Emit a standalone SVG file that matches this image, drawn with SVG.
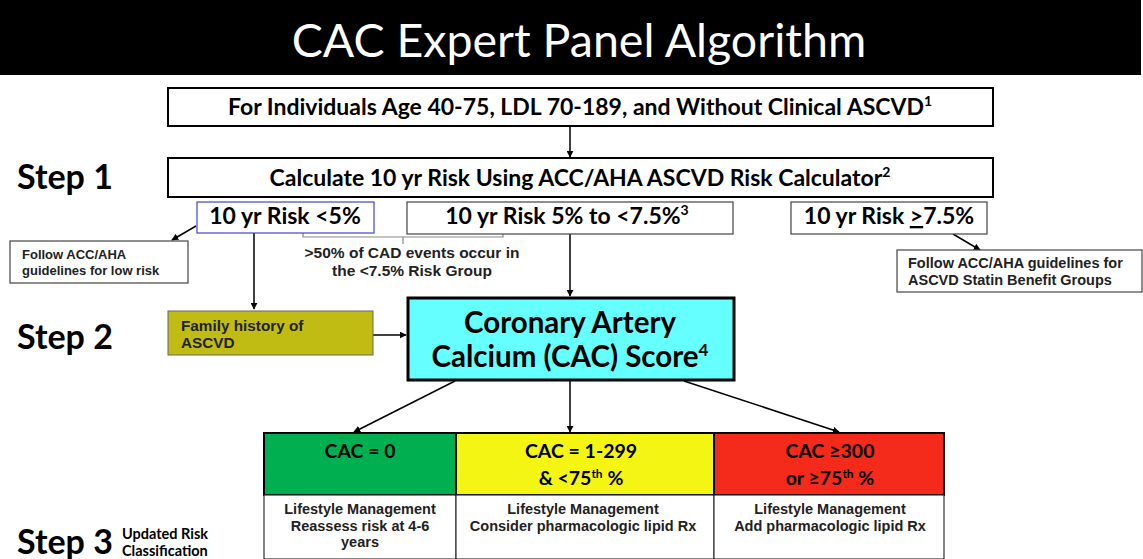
<svg xmlns="http://www.w3.org/2000/svg" width="1143" height="559" viewBox="0 0 1143 559">
  <defs>
    <marker id="ah" viewBox="0 0 10 10" refX="9" refY="5" markerWidth="7" markerHeight="7" markerUnits="userSpaceOnUse" orient="auto">
      <path d="M0,0 L10,5 L0,10 z" fill="#000"/>
    </marker>
    <style>
      .cal { font-family: Lato, "Open Sans", sans-serif; font-weight: bold; }
      .ari { font-family: "Liberation Sans", Arial, sans-serif; font-weight: bold; }
      .box { fill: #fff; stroke: #000; stroke-width: 2; }
      .thin { fill: #fff; stroke: #444; stroke-width: 1.2; }
      .step { font-size: 34px; fill: #000; }
      .conn { stroke: #000; stroke-width: 1.5; fill: none; marker-end: url(#ah); }
      .small { font-size: 13px; fill: #222; }
      .cell { font-size: 14.5px; fill: #222; }
      .mid { text-anchor: middle; }
      .lbl { font-size: 23px; }
      .cac { font-size: 19.5px; }
    </style>
  </defs>

  <rect width="1143" height="559" fill="#fff"/>

  <!-- title bar -->
  <g id="title">
    <rect x="0" y="0" width="1141" height="75" fill="#000"/>
    <text x="579" y="57" class="mid" font-family="Lato, 'Open Sans', sans-serif" font-size="46.5" fill="#fff">CAC Expert Panel Algorithm</text>
  </g>

  <!-- step labels -->
  <g id="steps">
    <text x="17" y="189" class="cal step">Step 1</text>
    <text x="17" y="349" class="cal step">Step 2</text>
    <text x="17" y="554" class="cal step">Step 3</text>
    <text x="122" y="539" class="cal" font-size="14.5">Updated Risk</text>
    <text x="122" y="556" class="cal" font-size="14.5">Classification</text>
  </g>

  <!-- connectors -->
  <g id="connectors">
    <line x1="570" y1="126" x2="570" y2="157" class="conn"/>
    <line x1="196" y1="226" x2="172" y2="240" class="conn"/>
    <line x1="254" y1="233" x2="254" y2="309" class="conn"/>
    <line x1="570" y1="234" x2="570" y2="296" class="conn"/>
    <line x1="953" y1="234" x2="980" y2="250" class="conn"/>
    <line x1="373" y1="335" x2="406" y2="335" class="conn"/>
    <line x1="455" y1="381" x2="354" y2="432" class="conn"/>
    <line x1="570" y1="381" x2="570" y2="432" class="conn"/>
    <line x1="684" y1="381" x2="839" y2="432" class="conn"/>
    <!-- brace under the two lower-risk groups -->
    <path d="M303,233 V237 H503 V233 M403,237 V244" stroke="#888" stroke-width="1.2" fill="none"/>
  </g>

  <g id="n-population">
    <rect x="168" y="88" width="825" height="38" class="box"/>
    <text x="580" y="115" class="cal mid lbl">For Individuals Age 40-75, LDL 70-189, and Without Clinical ASCVD<tspan font-size="14" dy="-9">1</tspan></text>
  </g>

  <g id="n-calculate">
    <rect x="168" y="158" width="825" height="39" class="box"/>
    <text x="580" y="186" class="cal mid lbl">Calculate 10 yr Risk Using ACC/AHA ASCVD Risk Calculator<tspan font-size="14" dy="-9">2</tspan></text>
  </g>

  <g id="n-low">
    <rect x="197" y="202" width="177" height="31" fill="#fff" stroke="#4444cc" stroke-width="1.2"/>
    <text x="285" y="224" class="cal mid lbl">10 yr Risk &lt;5%</text>
  </g>

  <g id="n-borderline">
    <rect x="407" y="202" width="326" height="32" class="thin"/>
    <text x="567" y="224" class="cal mid lbl">10 yr Risk 5% to &lt;7.5%<tspan font-size="14" dy="-9">3</tspan></text>
  </g>

  <g id="n-high">
    <rect x="791" y="202" width="196" height="32" class="thin"/>
    <text x="889" y="224" class="cal mid lbl">10 yr Risk <tspan text-decoration="underline">&gt;</tspan>7.5%</text>
  </g>

  <g id="n-low-guideline">
    <rect x="10" y="241" width="178" height="42" class="thin"/>
    <text x="22" y="259" class="ari small">Follow ACC/AHA</text>
    <text x="22" y="275" class="ari small">guidelines for low risk</text>
  </g>

  <g id="n-cad-note">
    <text x="412" y="258" class="ari mid" font-size="15.5" fill="#222">&gt;50% of CAD events occur in</text>
    <text x="412" y="276" class="ari mid" font-size="15.5" fill="#222">the &lt;7.5% Risk Group</text>
  </g>

  <g id="n-statin-guideline">
    <rect x="897" y="250" width="245" height="42" class="thin"/>
    <text x="908" y="268" class="ari cell">Follow ACC/AHA guidelines for</text>
    <text x="908" y="285" class="ari cell">ASCVD Statin Benefit Groups</text>
  </g>

  <g id="n-family">
    <rect x="168" y="311" width="205" height="44" fill="#c0bc14" stroke="#666" stroke-width="1"/>
    <text x="181" y="331" class="ari" font-size="15.3" fill="#222">Family history of</text>
    <text x="181" y="348" class="ari" font-size="15.3" fill="#222">ASCVD</text>
  </g>

  <g id="n-cac">
    <rect x="408" y="298" width="326" height="82" fill="#66ffff" stroke="#000" stroke-width="3"/>
    <text x="570" y="333" class="cal mid" font-size="29.5">Coronary Artery</text>
    <text x="570" y="367" class="cal mid" font-size="29.5">Calcium (CAC) Score<tspan font-size="17" dy="-11">4</tspan></text>
  </g>

  <g id="n-cac-zero">
    <rect x="264" y="433" width="192" height="62" fill="#00b050" stroke="#000" stroke-width="2"/>
    <rect x="264" y="495" width="192" height="64" fill="#fff" stroke="#333" stroke-width="1.2"/>
    <text x="360" y="458" class="cal mid cac">CAC = 0</text>
    <text x="360" y="514" class="ari mid cell">Lifestyle Management</text>
    <text x="360" y="531" class="ari mid cell">Reassess risk at 4-6</text>
    <text x="360" y="547" class="ari mid cell">years</text>
  </g>

  <g id="n-cac-mid">
    <rect x="456" y="433" width="258" height="62" fill="#f5f514" stroke="#000" stroke-width="2"/>
    <rect x="456" y="495" width="258" height="64" fill="#fff" stroke="#333" stroke-width="1.2"/>
    <text x="581" y="458" class="cal mid cac">CAC = 1-299</text>
    <text x="581" y="485" class="cal mid cac">&amp; &lt;75<tspan font-size="12" dy="-7">th</tspan><tspan dy="7"> %</tspan></text>
    <text x="583" y="514" class="ari mid cell">Lifestyle Management</text>
    <text x="583" y="531" class="ari mid cell">Consider pharmacologic lipid Rx</text>
  </g>

  <g id="n-cac-high">
    <rect x="714" y="433" width="230" height="62" fill="#f42a1a" stroke="#000" stroke-width="2"/>
    <rect x="714" y="495" width="230" height="64" fill="#fff" stroke="#333" stroke-width="1.2"/>
    <text x="830" y="458" class="cal mid cac">CAC ≥300</text>
    <text x="830" y="485" class="cal mid cac">or ≥75<tspan font-size="12" dy="-7">th</tspan><tspan dy="7"> %</tspan></text>
    <text x="830" y="514" class="ari mid cell">Lifestyle Management</text>
    <text x="830" y="531" class="ari mid cell">Add pharmacologic lipid Rx</text>
  </g>
</svg>
